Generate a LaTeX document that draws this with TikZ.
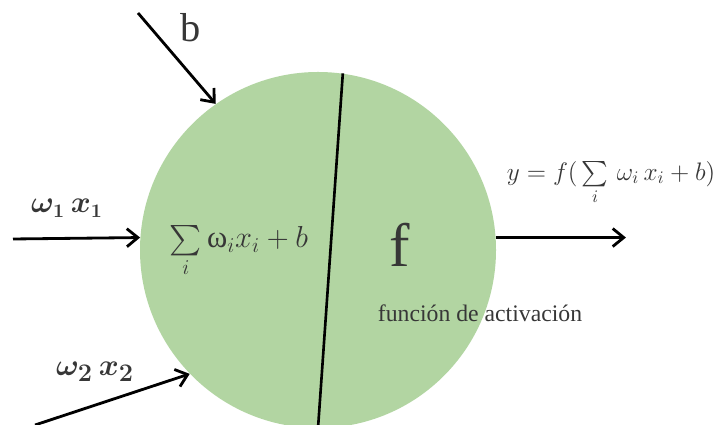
\documentclass[tikz,border=0pt]{standalone}
\usepackage{amsmath}
\usepackage{fontspec}
\newfontfamily\timesfont{Liberation Serif}
\usetikzlibrary{positioning,calc,arrows.meta}
\definecolor{neurongreen}{RGB}{178,213,162}
\definecolor{inkgrey}{RGB}{55,55,55}

\begin{document}
\begin{tikzpicture}[
    neuron/.style={circle, fill=neurongreen, minimum size=7.12cm, inner sep=0pt},
    signal/.style={-{Straight Barb[length=2.2mm,width=3.6mm]}, line width=1.6pt, draw=black},
    weight/.style={text=inkgrey, inner sep=0pt}
]
\useasboundingbox (0,0) rectangle (14.3,8.5);
\clip (0,0) rectangle (14.3,8.5);

\node[neuron] (n) at (6.36,3.5) {};
\draw[line width=1.5pt] (n.82.6) -- (n.270);

\node[weight, anchor=base] (sum) at (4.78,3.54) {\fontsize{17.5}{21}\selectfont $\sum\limits_i \text{\timesfont ω}_i x_i + b$};
\node[weight, anchor=base] (act) at (8.0,3.16) {\timesfont\fontsize{35}{40}\selectfont f};
\node[weight, anchor=base] (actname) at (9.6,2.06) {\timesfont\fontsize{13.5}{16}\selectfont función de activación};

\coordinate (bin) at (2.76,8.24);
\coordinate (x1in) at (0.26,3.72);
\coordinate (x2in) at (0.7,0);
\coordinate (yout) at ($(n.4.8)+(2.6,0)$);

\draw[signal] (bin) -- (n.125.6);
\draw[signal] (x1in) -- (n.176.5);
\draw[signal] (x2in) -- (n.224);
\draw[signal] (n.4.8) -- (yout);

\node[weight] (blabel) at (3.82,7.94) {\timesfont\fontsize{23}{26}\selectfont b};
\node[weight] (x1label) at (1.34,4.34) {\fontsize{16}{19}\selectfont $\boldsymbol{\omega_1\, x_1}$};
\node[weight] (x2label) at (1.9,1.06) {\fontsize{19}{23}\selectfont $\boldsymbol{\omega_2\, x_2}$};
\node[weight] (ylabel) at (12.22,4.84) {\fontsize{14}{17}\selectfont $y = f(\,\sum\limits_i\, \omega_i\, x_i + b)$};

\end{tikzpicture}
\end{document}
